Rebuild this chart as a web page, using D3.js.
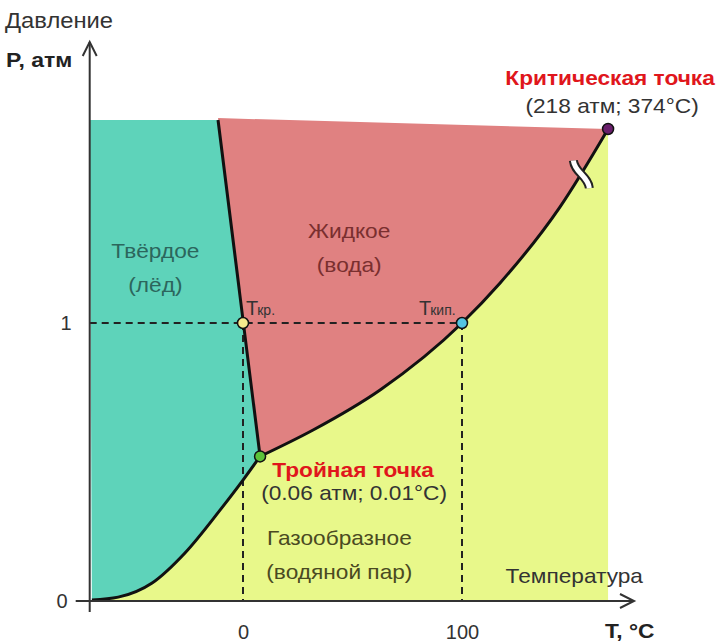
<!DOCTYPE html>
<html>
<head>
<meta charset="utf-8">
<script src="https://cdn.jsdelivr.net/npm/d3@7"></script>
<style>
    body { margin: 0; background: #fff; }
    text { font-family: "Liberation Sans", Arial, sans-serif; }
</style>
</head>
<body>
<div id="chart"></div>
<script>
// Schematic phase diagram of water (not to scale)
const tempTicks = [0, 100];
const pressTicks = [0, 1];
const axisTemp = -70;        // where the P axis stands
const topPressure = 1.73;    // upper edge of the coloured areas

const sublimation = [[-69, 0.004], [-57, 0.014], [-41.5, 0.065], [-26.5, 0.173], [-10.5, 0.327], [0, 0.435], [7.8, 0.52]];
const melting = [[-11.4, 1.73], [7.8, 0.52]];
const vaporization = [[7.8, 0.52], [32, 0.615], [62.6, 0.759], [100, 1], [117.4, 1.144], [144.7, 1.417], [166.7, 1.698]];

const triplePoint = [7.8, 0.52];
const criticalPoint = [166.7, 1.698];
const meltPoint = [0, 1];
const boilPoint = [100, 1];
const breakAt = [154.5, 1.535];

const width = 719, height = 643;

const x = d3.scaleLinear().domain([0, 100]).range([243, 462]);
const y = d3.scaleLinear().domain([0, 1]).range([601, 323]);

const svg = d3.select("#chart").append("svg")
    .attr("width", width)
    .attr("height", height);

const curve = d3.line()
    .x(d => x(d[0]))
    .y(d => y(d[1]))
    .curve(d3.curveMonotoneX);
const straight = d3.line()
    .x(d => x(d[0]))
    .y(d => y(d[1]));

// --- areas
const gasPath = curve(sublimation) + curve(vaporization).replace(/^M/, "L")
    + `L${x(criticalPoint[0])},${y(0)}L${x(axisTemp)},${y(0)}Z`;
svg.append("path").attr("d", gasPath).attr("fill", "#e8f88a");

const solidPath = curve(sublimation)
    + `L${x(melting[0][0])},${y(melting[0][1])}`
    + `L${x(axisTemp)},${y(topPressure)}Z`;
svg.append("path").attr("d", solidPath).attr("fill", "#5ed3ba");

const liquidPath = curve(vaporization)
    + `L${x(melting[0][0])},${y(topPressure + 0.007)}Z`;
svg.append("path").attr("d", liquidPath).attr("fill", "#e08181");

// --- dashed guides
const guides = svg.append("g")
    .attr("stroke", "#222")
    .attr("stroke-width", 2)
    .attr("stroke-dasharray", "7,5")
    .attr("fill", "none");
guides.append("path").attr("d", straight([[axisTemp, 1], boilPoint]));
guides.append("path").attr("d", straight([meltPoint, [meltPoint[0], 0]]));
guides.append("path").attr("d", straight([boilPoint, [boilPoint[0], 0]]));

// --- phase boundaries
const lines = svg.append("g").attr("fill", "none").attr("stroke", "#111").attr("stroke-width", 3);
lines.append("path").attr("d", curve(sublimation));
lines.append("path").attr("d", straight(melting));
lines.append("path").attr("d", curve(vaporization));

// break mark on the vaporization curve (scale is cut there)
{
    const px = x(breakAt[0]), py = y(breakAt[1]);
    const nx = 0.5, ny = 0.866;       // direction of the mark
    const ux = 0.866, uy = -0.5;
    const h = 16, w = 5;
    const d = `M${px - nx * h},${py - ny * h}`
        + `C${px - nx * h * 0.3 - ux * w},${py - ny * h * 0.3 - uy * w}`
        + ` ${px + nx * h * 0.3 + ux * w},${py + ny * h * 0.3 + uy * w}`
        + ` ${px + nx * h},${py + ny * h}`;
    svg.append("path").attr("d", d).attr("fill", "none").attr("stroke", "#222").attr("stroke-width", 9);
    svg.append("path").attr("d", d).attr("fill", "none").attr("stroke", "#fff").attr("stroke-width", 5);
}

// --- axes
const axisColor = "#333";
svg.append("line")
    .attr("x1", x(axisTemp)).attr("x2", x(axisTemp))
    .attr("y1", y(0) + 11).attr("y2", 42)
    .attr("stroke", axisColor).attr("stroke-width", 2);
svg.append("path")
    .attr("d", `M${x(axisTemp) - 7},56L${x(axisTemp)},42L${x(axisTemp) + 7},56`)
    .attr("fill", "none").attr("stroke", axisColor).attr("stroke-width", 2);
svg.append("line")
    .attr("x1", x(axisTemp) - 14).attr("x2", 634)
    .attr("y1", y(0)).attr("y2", y(0))
    .attr("stroke", axisColor).attr("stroke-width", 2);
svg.append("path")
    .attr("d", `M620,${y(0) - 7}L634,${y(0)}L620,${y(0) + 7}`)
    .attr("fill", "none").attr("stroke", axisColor).attr("stroke-width", 2);

const xAxis = svg.append("g")
    .attr("transform", `translate(0,${y(0)})`)
    .call(d3.axisBottom(x).tickValues(tempTicks).tickSize(0).tickPadding(24).tickFormat(d3.format("d")));
const yAxis = svg.append("g")
    .attr("transform", `translate(${x(axisTemp)},0)`)
    .call(d3.axisLeft(y).tickValues(pressTicks).tickSize(0).tickPadding(18).tickFormat(d3.format("d")));
[xAxis, yAxis].forEach(g => {
    g.select(".domain").remove();
    g.selectAll("text")
        .attr("font-family", "Liberation Sans, Arial, sans-serif")
        .attr("font-size", 20)
        .attr("fill", "#333");
});
yAxis.selectAll("text").filter(d => d === 0).attr("dx", -4);

// --- points
const points = [
    [meltPoint, "#f6e98c"],
    [boilPoint, "#53c4e2"],
    [triplePoint, "#5cc23a"],
    [criticalPoint, "#6a1f6c"]
];
svg.selectAll("circle.pt")
    .data(points)
    .join("circle")
    .attr("class", "pt")
    .attr("cx", d => x(d[0][0]))
    .attr("cy", d => y(d[0][1]))
    .attr("r", 5.5)
    .attr("fill", d => d[1])
    .attr("stroke", "#111")
    .attr("stroke-width", 1.5);

// --- labels (the source text is a little wider than Liberation Sans)
const stretch = 1.08;
function label(tx, ty, str, size, color, opts = {}) {
    const t = svg.append("text")
        .attr("x", tx).attr("y", ty)
        .attr("font-size", size)
        .attr("fill", color)
        .attr("font-weight", opts.bold ? "bold" : null)
        .attr("text-anchor", opts.anchor || "start")
        .text(str);
    const len = t.node().getComputedTextLength();
    t.attr("textLength", len * (opts.stretch || stretch)).attr("lengthAdjust", "spacingAndGlyphs");
    return t;
}

label(5, 28, "Давление", 22, "#333");
label(6, 67, "P, атм", 20, "#222", { bold: true, stretch: 1.15 });
label(605, 638, "T, °C", 21, "#222", { bold: true });
label(643, 583, "Температура", 21, "#333", { anchor: "end" });

// region names
label(x(-40), 258, "Твёрдое", 21, "#2c665d", { anchor: "middle" });
label(x(-40), 292, "(лёд)", 21, "#2c665d", { anchor: "middle" });
label(x(48.5), 238, "Жидкое", 21, "#7a2f2f", { anchor: "middle" });
label(x(48.5), 272, "(вода)", 21, "#7a2f2f", { anchor: "middle" });
label(x(44), 545, "Газообразное", 21, "#4a4a22", { anchor: "middle" });
label(x(44), 579, "(водяной пар)", 21, "#4a4a22", { anchor: "middle" });

// point notes
const cx = x(criticalPoint[0]), cy = y(criticalPoint[1]);
label(cx + 2, cy - 44, "Критическая точка", 21, "#e0161c", { bold: true, anchor: "middle" });
label(cx + 4, cy - 16, "(218 атм; 374°C)", 21, "#333", { anchor: "middle" });

const tx = x(triplePoint[0]), ty = y(triplePoint[1]);
label(tx + 93, ty + 21, "Тройная точка", 21, "#e0161c", { bold: true, anchor: "middle" });
label(tx + 94, ty + 44, "(0.06 атм; 0.01°C)", 21, "#333", { anchor: "middle" });

function tLabel(px, sub) {
    const t = svg.append("text").attr("x", px).attr("y", y(1) - 8).attr("fill", "#333");
    t.append("tspan").attr("font-size", 20).text("T");
    t.append("tspan").attr("font-size", 14).attr("dx", -1).text(sub);
    return t;
}
tLabel(x(meltPoint[0]) + 3, "кр.");
tLabel(x(boilPoint[0]) - 43, "кип.");
</script>
</body>
</html>
